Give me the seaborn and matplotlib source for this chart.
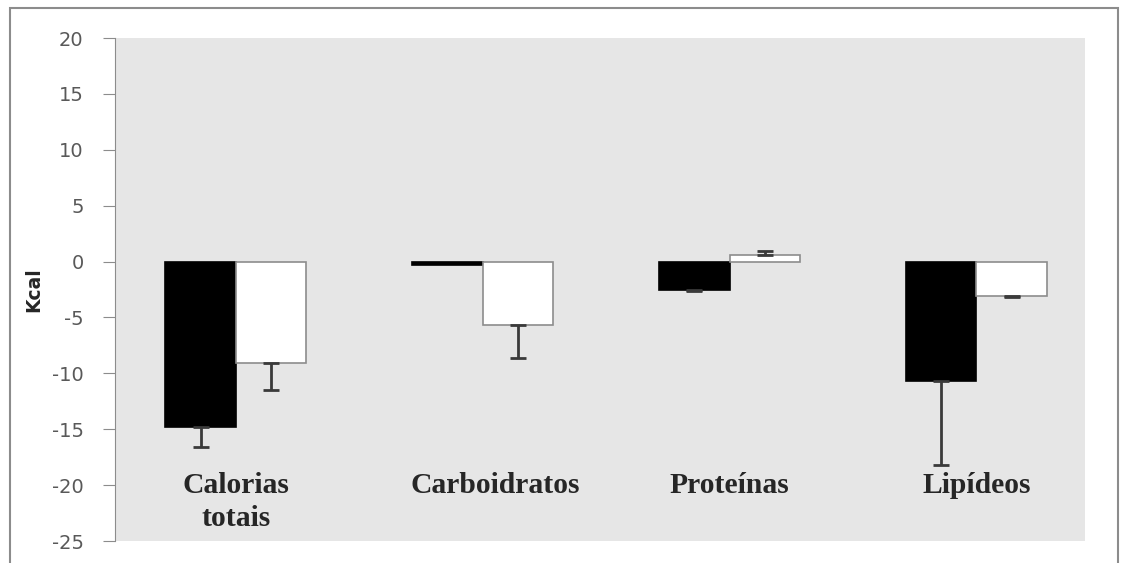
import pandas as pd
import numpy as np
import matplotlib.pyplot as plt
import seaborn as sns
from matplotlib.patches import Rectangle

categories = ["Calorias\ntotais", "Carboidratos", "Proteínas", "Lipídeos"]
groups = ["A", "B"]
vals_a = [-14.8, -0.3, -2.5, -10.7]
vals_b = [-9.1, -5.7, 0.6, -3.1]
err_a = [1.8, 0.0, 0.1, 7.5]
err_b = [2.4, 2.9, 0.35, 0.1]
yticks = [20, 15, 10, 5, 0, -5, -10, -15, -20, -25]

df = pd.DataFrame({
    "cat": categories * 2,
    "grupo": ["A"] * 4 + ["B"] * 4,
    "kcal": vals_a + vals_b,
})

sns.set_style("white")
fig = plt.figure(figsize=(11.26, 5.63), dpi=100)
ax = fig.add_axes([0.102, 0.039, 0.8616, 0.8935])
ax.set_facecolor("#e6e6e6")

sns.barplot(data=df, x="cat", y="kcal", hue="grupo", order=categories,
            hue_order=groups, palette=["black", "white"], width=0.57,
            errorbar=None, legend=False, saturation=1, ax=ax)

edge = {0: "black", 1: "#8c8c8c"}
errs = [err_a, err_b]
bar_sets = list(ax.containers)
for k, cont in enumerate(bar_sets):
    for bar, e in zip(cont, errs[k]):
        bar.set_edgecolor(edge[k])
        bar.set_linewidth(1.2)
        h = bar.get_height()
        if e == 0:
            continue
        x = bar.get_x() + bar.get_width() / 2
        yerr = [[e], [0]] if h < 0 else [[0], [e]]
        ax.errorbar(x, h, yerr=yerr, fmt="none", ecolor="#3a3a3a",
                    elinewidth=2, capsize=6, capthick=2)

ax.set_ylim(-25, 20)
ax.set_xlim(-0.49, 3.44)
ax.set_yticks(yticks)
ax.set_yticklabels([str(t) for t in yticks], color="#595959", fontsize=14)
ax.tick_params(axis="y", direction="out", length=8.5, color="#8c8c8c", pad=14, left=True)
ax.set_xticks([])
ax.set_xlabel("")
ax.set_ylabel("Kcal", fontsize=13.5, fontweight="bold")
ax.yaxis.set_label_coords(-0.0742, 0.5)

for s in ["top", "right", "bottom"]:
    ax.spines[s].set_visible(False)
ax.spines["left"].set_color("#8c8c8c")

# category labels sit inside the plot, the second one a bit off-centre as in the original
label_dx = [0, 0.05, 0, 0]
for i, c in enumerate(categories):
    ax.text(i + label_dx[i], -18.8, c, ha="center", va="top", fontsize=21.3,
            fontweight="bold", family="Liberation Serif", linespacing=1.3)

fig.patches.append(Rectangle((10 / 1126, -0.1), 1108 / 1126, 1.1 - 8 / 563,
                             transform=fig.transFigure, fill=False,
                             edgecolor="#8c8c8c", linewidth=1.5))

fig.savefig("out.png", dpi=100)
